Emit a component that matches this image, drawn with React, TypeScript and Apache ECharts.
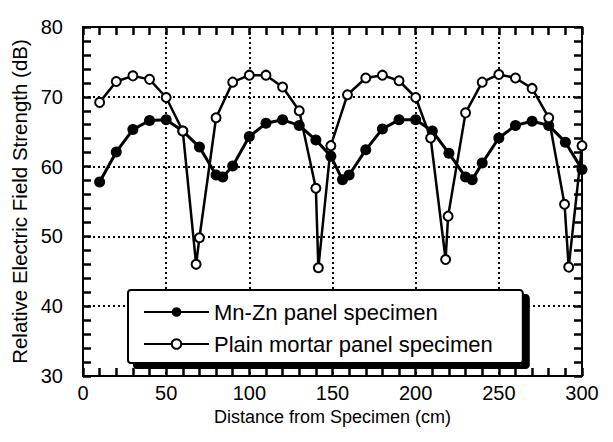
import React, { useEffect, useRef } from "react";
import * as echarts from "echarts";

const seriesNames = ["Mn-Zn panel specimen", "Plain mortar panel specimen"];

const mnZnX = [10, 20, 30, 40, 50, 60, 70, 80, 84, 90, 100, 110, 120, 130, 140, 149, 156, 160, 170, 180, 190, 200, 210, 220, 230, 234, 240, 250, 260, 270, 280, 290, 300];
const mnZnY = [57.8, 62.1, 65.3, 66.6, 66.7, 65.1, 62.8, 58.8, 58.5, 60.1, 64.3, 66.2, 66.7, 65.9, 63.8, 61.5, 58.1, 58.8, 62.4, 65.4, 66.7, 66.7, 65.1, 61.9, 58.5, 58.1, 60.5, 64.1, 65.9, 66.5, 65.9, 63.5, 59.6];

const plainX = [10, 20, 30, 40, 50, 60, 68, 70, 80, 90, 100, 110, 120, 130, 140, 141.5, 149, 159, 170, 180, 190, 200, 209, 218, 219.5, 230, 240, 250, 260, 270, 280, 289.5, 292, 300];
const plainY = [69.2, 72.2, 73.0, 72.5, 69.9, 65.1, 46.0, 49.8, 67.0, 72.1, 73.1, 73.1, 71.4, 68.0, 56.9, 45.5, 63.0, 70.3, 72.7, 73.1, 72.3, 69.9, 64.1, 46.7, 52.9, 67.7, 72.1, 73.2, 72.7, 71.2, 67.0, 54.6, 45.6, 63.0];

const xName = "Distance from Specimen (cm)";
const yName = "Relative Electric Field Strength (dB)";

export default function App() {
  const ref = useRef<HTMLDivElement>(null);
  useEffect(() => {
    const chart = echarts.init(ref.current!, null, { renderer: "svg" });
    const font = "'Liberation Sans', Arial, Helvetica, sans-serif";
    const zip = (xs: number[], ys: number[]) => xs.map((x, i) => [x, ys[i]]);
    const lineCol = "#000";
    const tick = () => ({ show: true, inside: true, length: 8, lineStyle: { color: "#000", width: 2.5 } });
    const minor = (n: number) => ({ show: true, splitNumber: n, length: 8, lineStyle: { color: "#000", width: 2.5 } });
    const axLine = () => ({ show: true, onZero: false, lineStyle: { color: lineCol, width: 2 } });
    const split = () => ({ show: true, lineStyle: { color: lineCol, type: [2, 3], width: 2 } });

    chart.setOption({
      animation: false,
      backgroundColor: "#fff",
      textStyle: { fontFamily: font },
      grid: { left: 83, right: 31, top: 27, bottom: 66, containLabel: false },
      xAxis: [
        {
          type: "value", min: 0, max: 300, interval: 50, position: "bottom",
          axisLine: axLine(), axisTick: tick(), minorTick: minor(5),
          axisLabel: { color: "#000", fontSize: 20, margin: 7, fontFamily: font },
          splitLine: split(),
          name: xName, nameLocation: "middle", nameGap: 23,
          nameTextStyle: { color: "#000", fontSize: 18, fontFamily: font },
        },
        {
          type: "value", min: 0, max: 300, interval: 50, position: "top",
          axisLine: axLine(), axisTick: tick(), minorTick: minor(5),
          axisLabel: { show: false }, splitLine: { show: false },
        },
      ],
      yAxis: [
        {
          type: "value", min: 30, max: 80, interval: 10, position: "left",
          axisLine: axLine(), axisTick: tick(), minorTick: minor(5),
          axisLabel: { color: "#000", fontSize: 20, margin: 20, fontFamily: font },
          splitLine: split(),
          name: yName, nameLocation: "middle", nameGap: 53,
          nameTextStyle: { color: "#000", fontSize: 20.5, fontFamily: font },
        },
        {
          type: "value", min: 30, max: 80, interval: 10, position: "right",
          axisLine: axLine(), axisTick: tick(), minorTick: minor(5),
          axisLabel: { show: false }, splitLine: { show: false },
        },
      ],
      legend: {
        data: seriesNames,
        orient: "vertical",
        left: 128,
        top: 290,
        backgroundColor: "#fff",
        borderColor: "#000",
        borderWidth: 2,
        borderRadius: 3,
        padding: [11, 30, 8, 15],
        itemWidth: 65,
        itemHeight: 12,
        itemGap: 10,
        shadowColor: "#000",
        shadowBlur: 0,
        shadowOffsetX: 6,
        shadowOffsetY: 5,
        textStyle: { color: "#000", fontSize: 22, fontFamily: font },
      },
      series: [
        {
          name: seriesNames[0],
          type: "line",
          data: zip(mnZnX, mnZnY),
          symbol: "circle",
          symbolSize: 11,
          lineStyle: { color: "#000", width: 3 },
          itemStyle: { color: "#000" },
          z: 2,
        },
        {
          name: seriesNames[1],
          type: "line",
          data: zip(plainX, plainY),
          symbol: "circle",
          symbolSize: 9,
          lineStyle: { color: "#000", width: 2.5 },
          itemStyle: { color: "#fff", borderColor: "#000", borderWidth: 2 },
          z: 3,
        },
      ],
    });
    return () => chart.dispose();
  }, []);
  return (
    <div
      ref={ref}
      style={{ position: "fixed", left: 0, top: 0, width: 613, height: 442, background: "#fff" }}
    />
  );
}
